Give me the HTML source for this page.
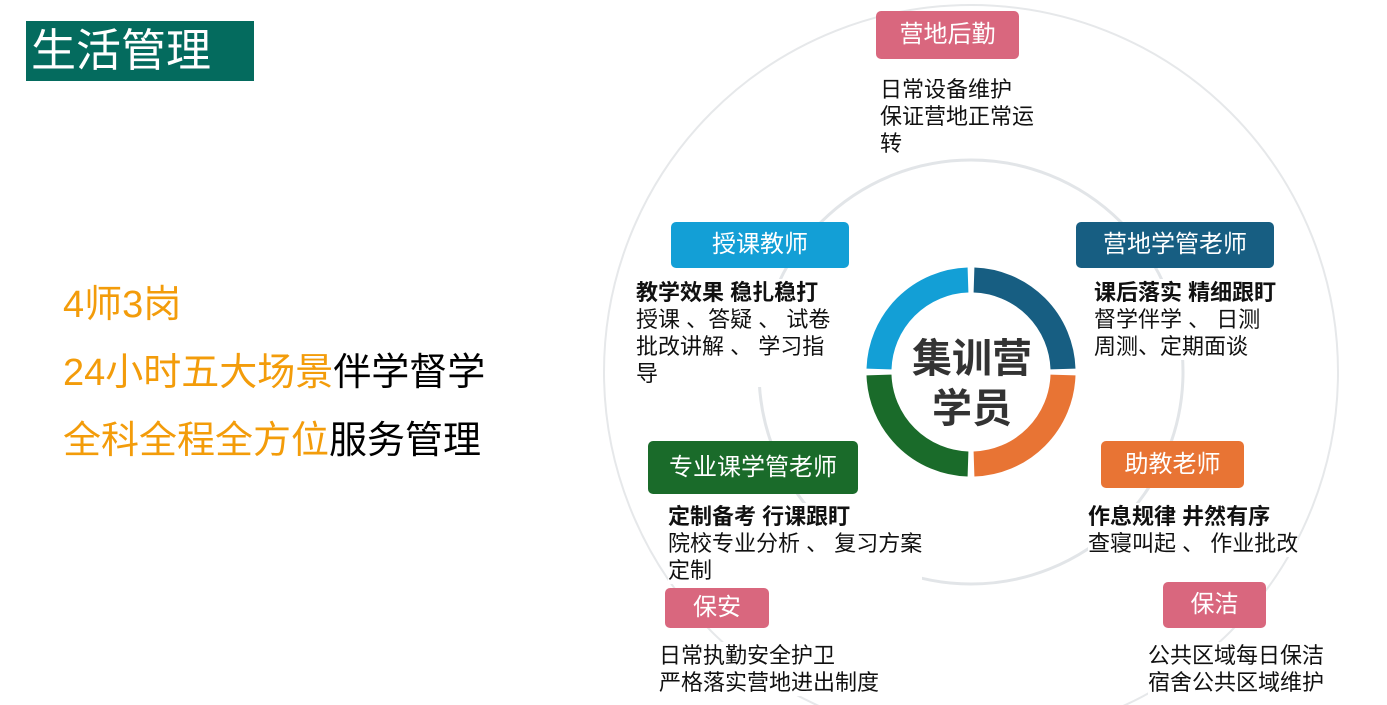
<!DOCTYPE html>
<html><head><meta charset="utf-8"><style>
body{margin:0;width:1387px;height:705px;background:#fff;position:relative;overflow:hidden;font-family:"Liberation Sans","Noto Sans CJK SC",sans-serif;}
.a{position:absolute;white-space:nowrap;}
.box{position:absolute;color:#fff;text-align:center;border-radius:5px;font-size:24px;}
.t{position:absolute;font-size:22px;line-height:27px;color:#111;white-space:nowrap;background:#fff;}
.t b{font-weight:bold;}
.o{color:#f39c0a;}
</style></head><body>
<svg width="1387" height="705" style="position:absolute;left:0;top:0">
<circle cx="971" cy="372" r="367" fill="none" stroke="#e6e8ea" stroke-width="2"/>
<circle cx="971" cy="372" r="212" fill="none" stroke="#e2e5e8" stroke-width="3"/>
<g fill="none" stroke-width="25">
<path d="M974 280 A92 92 0 0 1 1063 369" stroke="#175e82"/>
<path d="M1063 375 A92 92 0 0 1 974 464" stroke="#e87434"/>
<path d="M968 464 A92 92 0 0 1 879 375" stroke="#1a6b2a"/>
<path d="M879 369 A92 92 0 0 1 968 280" stroke="#139fd6"/>
</g>
</svg>
<div class="a" style="left:26px;top:21px;width:228px;height:60px;background:#046b5e;color:#fff;font-size:45px;line-height:60px;padding-left:5px;box-sizing:border-box">生活管理</div>
<div class="a o" style="left:63px;top:282px;font-size:38px;line-height:46px">4师3岗</div>
<div class="a" style="left:63px;top:350px;font-size:38px;line-height:46px"><span class="o">24小时五大场景</span>伴学督学</div>
<div class="a" style="left:63px;top:418px;font-size:38px;line-height:46px"><span class="o">全科全程全方位</span>服务管理</div>

<div class="a" style="left:902px;top:334px;font-size:40px;line-height:50px;color:#333;text-align:center;width:140px;font-weight:bold">集训营<br>学员</div>

<div class="box" style="left:876px;top:11px;width:143px;height:48px;line-height:48px;background:#d9677e">营地后勤</div>
<div class="t" style="left:880px;top:76px">日常设备维护<br>保证营地正常运<br>转</div>

<div class="box" style="left:671px;top:222px;width:178px;height:46px;line-height:46px;background:#139fd6">授课教师</div>
<div class="t" style="left:636px;top:279px"><b>教学效果 稳扎稳打</b><br>授课 、答疑 、 试卷<br>批改讲解 、 学习指<br>导</div>

<div class="box" style="left:1076px;top:222px;width:198px;height:46px;line-height:46px;background:#175e82">营地学管老师</div>
<div class="t" style="left:1094px;top:279px"><b>课后落实 精细跟盯</b><br>督学伴学 、 日测<br>周测、定期面谈</div>

<div class="box" style="left:648px;top:441px;width:210px;height:53px;line-height:53px;background:#1a6b2a">专业课学管老师</div>
<div class="t" style="left:668px;top:503px"><b>定制备考 行课跟盯</b><br>院校专业分析 、 复习方案<br>定制</div>

<div class="box" style="left:1101px;top:441px;width:143px;height:47px;line-height:47px;background:#e87434">助教老师</div>
<div class="t" style="left:1088px;top:503px"><b>作息规律 井然有序</b><br>查寝叫起 、 作业批改</div>

<div class="box" style="left:665px;top:588px;width:104px;height:40px;line-height:40px;background:#d9677e">保安</div>
<div class="t" style="left:659px;top:642px">日常执勤安全护卫<br>严格落实营地进出制度</div>

<div class="box" style="left:1163px;top:582px;width:103px;height:46px;line-height:46px;background:#d9677e">保洁</div>
<div class="t" style="left:1148px;top:642px">公共区域每日保洁<br>宿舍公共区域维护</div>
</body></html>
